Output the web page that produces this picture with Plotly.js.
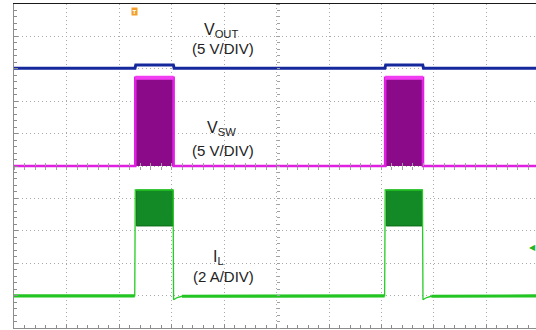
<!DOCTYPE html>
<html>
<head>
<meta charset="utf-8">
<script src="https://cdn.plot.ly/plotly-3.0.1.min.js"></script>
<style>html,body{margin:0;padding:0;background:#fff;}#chart{width:536px;height:330px;}</style>
</head>
<body>
<div id="chart"></div>
<script>
// Screen positions are in oscilloscope divisions (x: time, y: vertical div from bottom)
const burstOn  = [2.31, 7.07];          // switching burst start (div)
const burstOff = [3.04, 7.79];          // switching burst end (div)
const screenEnd = 9.943;                // right edge of the visible screen (div)

const voutLevel = [8.02, 8.12];         // VOUT: idle, during burst
const vswLevel  = [5.00, 7.72];         // VSW: low (0 V), high during burst
const ilLevel   = [0.99, 3.15, 4.26];   // IL: idle (0 A), ripple valley, ripple peak
const ilUndershoot = [0.87, 0.94, 0.98];// IL after burst end (settling)
const ilSettle  = [0.01, 0.07, 0.16];   // time after burst end for settling points (div)

const labelText = ["V<sub>OUT</sub>", "(5 V/DIV)", "V<sub>SW</sub>", "(5 V/DIV)", "I<sub>L</sub>", "(2 A/DIV)"];

// ---- build waveforms from the values above ----
function buildVout(){
  const t=[0], v=[voutLevel[0]];
  burstOn.forEach((on,i)=>{
    const off=burstOff[i];
    t.push(on-0.005, on+0.01, off-0.005, off+0.01);
    v.push(voutLevel[0], voutLevel[1], voutLevel[1], voutLevel[0]);
  });
  t.push(screenEnd+0.1); v.push(voutLevel[0]);
  return {t,v};
}
function buildVsw(){
  const t=[0], v=[vswLevel[0]];
  burstOn.forEach((on,i)=>{
    const off=burstOff[i];
    t.push(on, on, off, off);
    v.push(vswLevel[0], vswLevel[1], vswLevel[1], vswLevel[0]);
  });
  t.push(screenEnd+0.1); v.push(vswLevel[0]);
  return {t,v};
}
function buildVswTop(){
  const t=[], v=[];
  burstOn.forEach((on,i)=>{
    if(i>0){t.push(null); v.push(null);}
    t.push(on, burstOff[i]); v.push(vswLevel[1], vswLevel[1]);
  });
  return {t,v};
}
function buildIlEdges(){
  const t=[0], v=[ilLevel[0]];
  burstOn.forEach((on,i)=>{
    const off=burstOff[i];
    t.push(on-0.01, on, off-0.01, off);
    v.push(ilLevel[0], ilLevel[2], ilLevel[2], ilUndershoot[0]);
    ilSettle.slice(1).forEach((dt,k)=>{ t.push(off+dt); v.push(ilUndershoot[k+1]); });
  });
  t.push(screenEnd+0.1); v.push(ilLevel[0]);
  return {t,v};
}
function buildIlBase(){
  const t=[0], v=[ilLevel[0]];
  burstOn.forEach((on,i)=>{
    const off=burstOff[i];
    t.push(on-0.01, null, off+ilSettle[2]);
    v.push(ilLevel[0], null, ilUndershoot[2]);
  });
  t.push(screenEnd+0.1); v.push(ilLevel[0]);
  return {t,v};
}
function buildIlBand(){
  const t=[], v=[];
  burstOn.forEach((on,i)=>{
    const off=burstOff[i];
    if(i>0){t.push(null); v.push(null);}
    t.push(on+0.02, off-0.01, off-0.01, on+0.02, on+0.02);
    v.push(ilLevel[2], ilLevel[2], ilLevel[1], ilLevel[1], ilLevel[2]);
  });
  return {t,v};
}

const vout=buildVout(), vsw=buildVsw(), vswTop=buildVswTop(), ilE=buildIlEdges(), ilB=buildIlBase(), ilBand=buildIlBand();

const traces=[
  {x:vsw.t, y:vsw.v, type:'scatter', mode:'lines', fill:'toself', fillcolor:'#8a0a8a',
   line:{color:'#e020e0', width:2.6}, hoverinfo:'skip'},
  {x:vswTop.t, y:vswTop.v, type:'scatter', mode:'lines', line:{color:'#f23cf2', width:4}, hoverinfo:'skip'},
  {x:vout.t, y:vout.v, type:'scatter', mode:'lines', line:{color:'#15299d', width:3}, hoverinfo:'skip'},
  {x:ilBand.t, y:ilBand.v, type:'scatter', mode:'lines', fill:'toself', fillcolor:'#148a26',
   line:{color:'#0c6c16', width:1}, hoverinfo:'skip'},
  {x:ilE.t, y:ilE.v, type:'scatter', mode:'lines', line:{color:'#25cc25', width:1.3}, hoverinfo:'skip'},
  {x:ilB.t, y:ilB.v, type:'scatter', mode:'lines', connectgaps:false, line:{color:'#22c522', width:3.2}, hoverinfo:'skip'},
  // empty carriers so the centre graticule axes are drawn
  {x:[], y:[], xaxis:'x3', yaxis:'y', type:'scatter', hoverinfo:'skip'},
  {x:[], y:[], xaxis:'x4', yaxis:'y', type:'scatter', hoverinfo:'skip'},
  {x:[], y:[], xaxis:'x', yaxis:'y3', type:'scatter', hoverinfo:'skip'},
  {x:[], y:[], xaxis:'x', yaxis:'y4', type:'scatter', hoverinfo:'skip'},
  {x:[], y:[], xaxis:'x2', yaxis:'y', type:'scatter', hoverinfo:'skip'}
];

const gridCol='#a9a9a9', frameCol='#8c8c8c';
const baseAx={showgrid:true, gridcolor:gridCol, griddash:'1px,3px', gridwidth:1, zeroline:false,
  showticklabels:false, showline:true, linecolor:frameCol, linewidth:1,
  ticks:'inside', ticklen:4, tickcolor:frameCol, tickwidth:1, dtick:1, tick0:0, fixedrange:true,
  minor:{ticks:'inside', dtick:0.2, ticklen:3, tickcolor:frameCol, showgrid:false}};

const centerAx=(extra)=>Object.assign({showgrid:false, zeroline:false, showticklabels:false, showline:false,
  ticklen:3, tickcolor:'#a0a0a0', tickwidth:1, dtick:0.2, tick0:0, fixedrange:true, anchor:'free'}, extra);

const labX=[3.95,3.99,3.95,3.99,3.90,3.99];
const labY=[9.17,8.62,6.17,5.48,2.18,1.60];
const labSize=[16,15,16,15,16,15];
const annotations=labelText.map((s,i)=>({x:labX[i], y:labY[i], xref:'x', yref:'y', text:s, showarrow:false,
  font:{family:'Liberation Sans, Arial, sans-serif', size:labSize[i], color:'#222'}, xanchor:'center', yanchor:'middle'}));
annotations.push({x:burstOn[0]-0.02, y:0.978, xref:'x', yref:'paper', text:'<b>T</b>', showarrow:false,
  font:{family:'Liberation Sans, Arial, sans-serif', size:6, color:'#fff'}, bgcolor:'#f2a02a', borderpad:0.5,
  xanchor:'center', yanchor:'middle'});
annotations.push({x:1.0, y:2.53, xref:'paper', yref:'y', text:'◀', showarrow:false,
  font:{size:8, color:'#22b522'}, xanchor:'right', yanchor:'middle', xshift:2});

const layout={
  width:536, height:330, margin:{l:14, r:0, t:4, b:2}, paper_bgcolor:'#fff', plot_bgcolor:'#fff',
  showlegend:false,
  xaxis:Object.assign({}, baseAx, {range:[0, screenEnd]}),
  yaxis:Object.assign({}, baseAx, {range:[0, 10]}),
  xaxis2:{overlaying:'x', side:'top', anchor:'y', range:[0, screenEnd], showline:true, linecolor:'#1a1a1a', linewidth:1.5,
          showgrid:false, zeroline:false, ticks:'', showticklabels:false, fixedrange:true},
  xaxis3:centerAx({overlaying:'x', position:0.5, range:[0, screenEnd], ticks:'inside'}),
  xaxis4:centerAx({overlaying:'x', position:0.5, range:[0, screenEnd], ticks:'outside'}),
  yaxis3:centerAx({overlaying:'y', position:5/screenEnd, range:[0,10], ticks:'inside'}),
  yaxis4:centerAx({overlaying:'y', position:5/screenEnd, range:[0,10], ticks:'outside', side:'right'}),
  annotations:annotations
};

Plotly.newPlot('chart', traces, layout, {staticPlot:true, displayModeBar:false});
</script>
</body>
</html>
